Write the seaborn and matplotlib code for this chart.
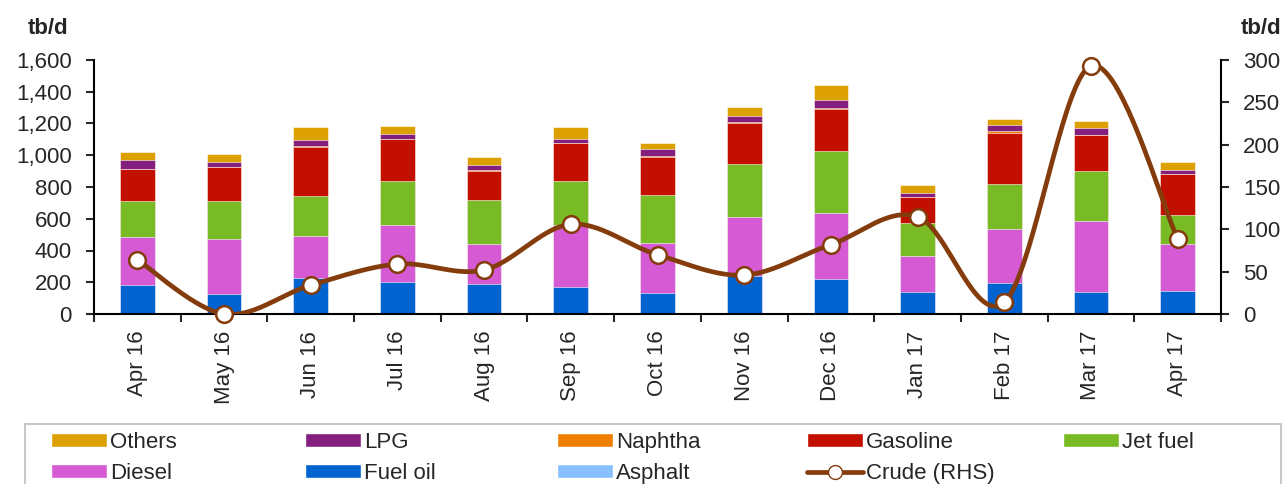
import numpy as np
import pandas as pd
import matplotlib.pyplot as plt
import seaborn as sns
from matplotlib.patches import Patch, Rectangle
from matplotlib.lines import Line2D
from matplotlib.ticker import FuncFormatter, FixedLocator

# dados (tb/d)
months = ['Apr 16', 'May 16', 'Jun 16', 'Jul 16', 'Aug 16', 'Sep 16', 'Oct 16',
          'Nov 16', 'Dec 16', 'Jan 17', 'Feb 17', 'Mar 17', 'Apr 17']
asphalt = [2, 1, 2, 2, 8, 2, 1, 2, 2, 1, 2, 1, 2]
fuel_oil = [181, 127, 227, 202, 179, 170, 131, 238, 217, 139, 195, 138, 143]
diesel = [300, 347, 260, 357, 252, 389, 317, 369, 415, 225, 340, 447, 298]
jet_fuel = [229, 237, 254, 277, 279, 277, 301, 334, 393, 210, 282, 313, 181]
gasoline = [200, 212, 311, 262, 185, 237, 237, 262, 264, 160, 323, 227, 256]
naphtha = [2, 1, 4, 2, 2, 2, 8, 3, 9, 4, 8, 3, 4]
lpg = [58, 35, 38, 30, 36, 27, 46, 39, 50, 25, 41, 41, 23]
others = [49, 48, 80, 54, 50, 72, 36, 55, 93, 47, 38, 46, 51]
crude = [64, 0, 34, 59, 52, 106, 70, 46, 82, 115, 14, 293, 89]

# camadas de baixo para cima
layers = [('Asphalt', asphalt, '#87C0FF'),
          ('Fuel oil', fuel_oil, '#0064D0'),
          ('Diesel', diesel, '#D65AD4'),
          ('Jet fuel', jet_fuel, '#78BB25'),
          ('Gasoline', gasoline, '#C20F00'),
          ('Naphtha', naphtha, '#F07F00'),
          ('LPG', lpg, '#841F7F'),
          ('Others', others, '#DCA000')]
crude_color = '#843C0C'

sns.set_style('white')
plt.rcParams['font.family'] = ['Liberation Sans', 'DejaVu Sans']
plt.rcParams['font.size'] = 16

fig = plt.figure(figsize=(12.85, 4.84), dpi=100)
ax = fig.add_axes([94 / 1285, 1 - 314 / 484, (1221 - 94) / 1285, 254 / 484])

# barras empilhadas: desenha os acumulados do topo para baixo
tops = np.cumsum(np.array([v for _, v, _ in layers]), axis=0)
for i in range(len(layers) - 1, -1, -1):
    df = pd.DataFrame({'month': months, 'value': tops[i]})
    sns.barplot(data=df, x='month', y='value', color=layers[i][2], width=0.4,
                saturation=1, edgecolor='white', linewidth=0.4, ax=ax)

ax.set_xlim(-0.5, len(months) - 0.5)
ax.set_ylim(0, 1600)
ax.set_yticks(range(0, 1601, 200))
ax.yaxis.set_major_formatter(FuncFormatter(lambda v, p: f'{int(v):,}'))
ax.set_xlabel('')
ax.set_ylabel('')
ax.set_xticks(range(len(months)))
ax.set_xticklabels(months, rotation=90)
ax.xaxis.set_minor_locator(FixedLocator(np.arange(-0.5, len(months), 1)))
ax.tick_params(axis='x', which='major', length=0, pad=12)
ax.tick_params(axis='x', which='minor', length=6, width=1.5, direction='out', bottom=True)
ax.tick_params(axis='y', length=6, width=1.5, direction='out', left=True, pad=10)
for s in ['top', 'right']:
    ax.spines[s].set_visible(False)
for s in ['left', 'bottom']:
    ax.spines[s].set_linewidth(1.5)
    ax.spines[s].set_color('black')

# eixo da direita - crude com linha suavizada (estilo Excel)
ax2 = ax.twinx()
x = np.arange(len(crude), dtype=float)
y = np.array(crude, dtype=float)
px = np.concatenate([[x[0]], x, [x[-1]]])
py = np.concatenate([[y[0]], y, [y[-1]]])
t = np.linspace(0, 1, 40)
xs, ys = [], []
for i in range(1, len(px) - 2):
    p0x, p3x = px[i], px[i + 1]
    p0y, p3y = py[i], py[i + 1]
    c1x = p0x + (px[i + 1] - px[i - 1]) / 6
    c1y = p0y + (py[i + 1] - py[i - 1]) / 6
    c2x = p3x - (px[i + 2] - px[i]) / 6
    c2y = p3y - (py[i + 2] - py[i]) / 6
    b = [(1 - t) ** 3, 3 * (1 - t) ** 2 * t, 3 * (1 - t) * t ** 2, t ** 3]
    xs.append(b[0] * p0x + b[1] * c1x + b[2] * c2x + b[3] * p3x)
    ys.append(b[0] * p0y + b[1] * c1y + b[2] * c2y + b[3] * p3y)
xs = np.concatenate(xs)
ys = np.concatenate(ys)
sns.lineplot(x=xs, y=ys, sort=False, color=crude_color, linewidth=3.4, ax=ax2)
ax2.plot(x, y, linestyle='none', marker='o', markersize=12, markerfacecolor='white',
         markeredgecolor=crude_color, markeredgewidth=1.8, clip_on=False, zorder=5)
ax2.set_ylim(0, 300)
ax2.set_yticks(range(0, 301, 50))
ax2.tick_params(axis='y', length=6, width=1.5, direction='out', right=True, pad=10)
ax2.spines['right'].set_linewidth(1.5)
ax2.spines['right'].set_color('black')
for s in ['top', 'left', 'bottom']:
    ax2.spines[s].set_visible(False)

fig.text(48 / 1285, 1 - 28 / 484, 'tb/d', fontsize=16, fontweight='bold', ha='center', va='center')
fig.text(1261 / 1285, 1 - 29 / 484, 'tb/d', fontsize=16, fontweight='bold', ha='center', va='center')

# legenda - caixa e colunas
fig.add_artist(Rectangle((25 / 1285, -0.1), (1281 - 25) / 1285, 0.1 + 1 - 424 / 484,
                         transform=fig.transFigure, facecolor='none',
                         edgecolor='#c8c8c8', linewidth=1.5))
cor = {n: c for n, _, c in layers}
crude_handle = Line2D([], [], color=crude_color, linewidth=3.4, marker='o', markersize=10,
                      markerfacecolor='white', markeredgecolor=crude_color)
columns = [(51, [('Others', None), ('Diesel', None)]),
           (305, [('LPG', None), ('Fuel oil', None)]),
           (557, [('Naphtha', None), ('Asphalt', None)]),
           (807, [('Gasoline', None), ('Crude (RHS)', crude_handle)]),
           (1063, [('Jet fuel', None)])]
for xpos, items in columns:
    handles = [h if h is not None else Patch(facecolor=cor[n]) for n, h in items]
    labels = [n for n, _ in items]
    fig.legend(handles, labels, loc='upper left', bbox_to_anchor=(xpos / 1285, 1 - 432 / 484),
               frameon=False, borderpad=0, borderaxespad=0, handlelength=2.5,
               handleheight=0.55, handletextpad=0.15, labelspacing=0.45, fontsize=16,
               numpoints=1)

fig.savefig('out.png', dpi=100)
